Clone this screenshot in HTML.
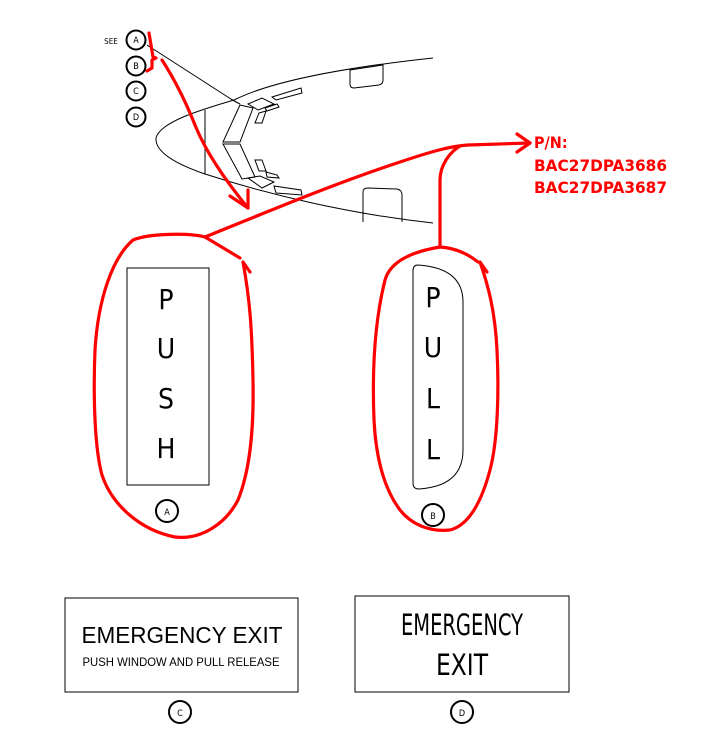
<!DOCTYPE html>
<html><head><meta charset="utf-8"><style>
html,body{margin:0;padding:0;background:#fff;}
svg{display:block;}
text{font-family:"Liberation Sans",sans-serif;}
.n text, text.n{font-family:"DejaVu Sans Condensed","DejaVu Sans","Liberation Sans",sans-serif;}
</style></head><body>
<svg width="714" height="739" viewBox="0 0 714 739" xmlns="http://www.w3.org/2000/svg">
<g fill="none" stroke="#000" stroke-width="1">
<path d="M433,58 C340,68 270,82 234,100 C200,110 160,122 156,138 C155,150 170,162 205,174 C270,195 350,214 433,223"/>
<line x1="205" y1="110" x2="205" y2="174"/>
<line x1="147" y1="45" x2="234" y2="101"/>
<path d="M231,99 L240,104 L236,102 Z" fill="#000"/>
<path d="M350,70 L383,65 L383,80 Q383,84 379,85 L354,88 Q350,88 350,84 Z"/>
<path d="M363,222 L363,192 Q363,188 368,188 L397,189 Q402,190 402,195 L402,222"/>
<polygon points="240,105 253,108 240,142 223,142"/>
<polygon points="223,144 240,144 255,177 242,179"/>
<polygon points="248,104 262,98 274,104 258,110"/>
<polygon points="272,97 301,88 302,93 276,100"/>
<polygon points="265,108 277,104 279,107 267,111"/>
<polygon points="259,113 266,111 262,123 255,123"/>
<polygon points="255,160 262,160 266,171 259,171"/>
<polygon points="266,172 277,175 279,178 267,177"/>
<polygon points="248,178 260,176 274,182 262,188"/>
<polygon points="274,186 301,190 302,195 276,193"/>
<circle cx="136" cy="40" r="9.5" stroke-width="2"/>
<circle cx="136" cy="66" r="9.5" stroke-width="2"/>
<circle cx="136" cy="91" r="9.5" stroke-width="2"/>
<circle cx="136" cy="117" r="9.5" stroke-width="2"/>
<rect x="127" y="268" width="82" height="217"/>
<path d="M418,265 Q413,265 413,271 L413,483 Q413,489 419,489 Q463,486 463,450 L463,302 Q463,268 418,265 Z"/>
<circle cx="167" cy="511" r="11" stroke-width="2"/>
<circle cx="433" cy="515" r="11" stroke-width="2"/>
<rect x="65" y="598" width="233" height="94"/>
<rect x="355" y="596" width="214" height="96"/>
<circle cx="180" cy="712" r="11" stroke-width="2"/>
<circle cx="462" cy="712" r="11" stroke-width="2"/>
</g>
<g font-size="9" fill="#000" text-anchor="middle" class="n">
<text x="111" y="44" font-size="8">SEE</text>
<text x="136" y="43">A</text><text x="136" y="69">B</text><text x="136" y="94">C</text><text x="136" y="120">D</text>
<text x="167" y="515">A</text><text x="433" y="519">B</text>
<text x="180" y="716">C</text><text x="462" y="716">D</text>
</g>
<g fill="#000" text-anchor="middle" class="n" font-size="28">
<text x="166" y="309">P</text><text x="166" y="358">U</text><text x="166" y="408">S</text><text x="166" y="458">H</text>
<text x="433" y="307">P</text><text x="433" y="357">U</text><text x="433" y="408">L</text><text x="433" y="459">L</text>
<text x="462" y="635" font-size="29" textLength="122" lengthAdjust="spacingAndGlyphs">EMERGENCY</text>
<text x="462" y="675" font-size="29" textLength="52" lengthAdjust="spacingAndGlyphs">EXIT</text>
</g>
<text x="182" y="643" font-size="23" text-anchor="middle" textLength="201" lengthAdjust="spacingAndGlyphs">EMERGENCY EXIT</text>
<text x="181" y="666" font-size="12" text-anchor="middle" textLength="197" lengthAdjust="spacingAndGlyphs">PUSH WINDOW AND PULL RELEASE</text>
<g fill="none" stroke="#f00" stroke-width="3.2" stroke-linecap="round" stroke-linejoin="round">
<path d="M149,33 L151,45 L153,57 L156,58 L152,60 L152,68 L147,71"/>
<path d="M162,60 C175,80 185,100 195,125 C205,150 225,180 248,208"/>
<path d="M248,190 L248,208 L230,196"/>
<path d="M205,237 C260,215 330,185 400,162 C430,152 450,146 468,145 L530,143"/>
<path d="M517,134 L530,143 L517,152"/>
<path d="M440,245 L440,180 C440,165 450,152 460,146"/>
<path d="M205,237 C190,233 150,233 133,240 C112,258 98,300 95,350 C93,400 95,450 102,475 C112,505 140,530 175,537 C200,540 225,525 238,500 C250,470 254,430 253,380 C252,330 250,300 243,262 L250,272"/>
<path d="M205,237 L240,258"/>
<path d="M440,247 C410,252 390,262 385,280 C375,320 372,370 374,420 C376,460 385,490 400,510 C412,525 430,532 450,530 C470,525 482,500 490,470 C498,440 499,390 497,350 C495,310 488,285 480,262 L487,272"/>
<path d="M440,247 C455,248 468,254 478,262"/>
</g>
<g fill="#f00" font-weight="bold" font-size="16" class="n">
<text x="534" y="148">P/N:</text>
<text x="534" y="171" textLength="133" lengthAdjust="spacingAndGlyphs">BAC27DPA3686</text>
<text x="534" y="193" textLength="133" lengthAdjust="spacingAndGlyphs">BAC27DPA3687</text>
</g>
</svg>
</body></html>
